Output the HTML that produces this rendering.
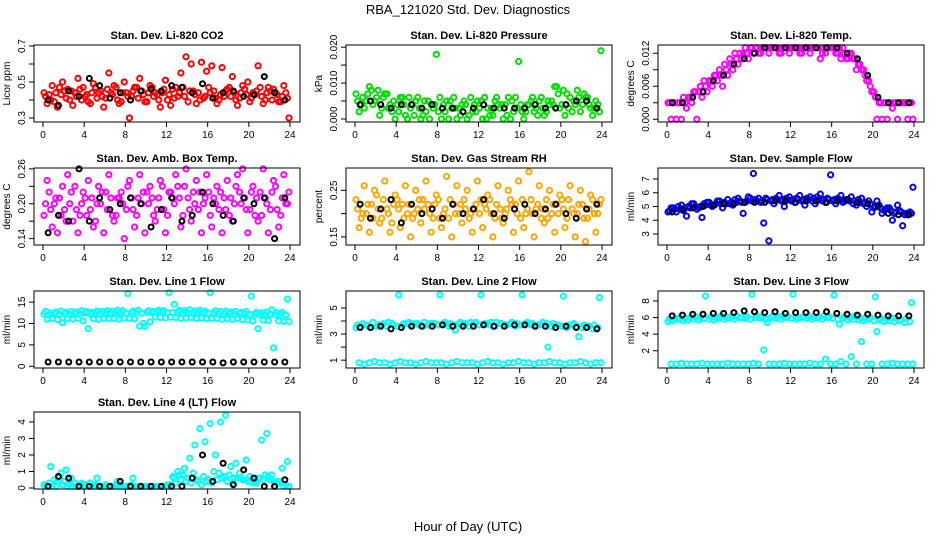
<!DOCTYPE html>
<html><head><meta charset="utf-8"><style>
html,body{margin:0;padding:0;background:#fff;}
svg{display:block;font-family:"Liberation Sans",Arial,sans-serif;}
</style></head><body>
<svg id="c" width="936" height="540" viewBox="0 0 936 540">
<text x="468" y="14" text-anchor="middle" font-size="13">RBA_121020  Std. Dev. Diagnostics</text>
<text x="468" y="531" text-anchor="middle" font-size="13">Hour of Day (UTC)</text>
</svg>
<script>
const xTicks=[0,4,8,12,16,20,24];
// CO2
const co2A=[0.42,0.40,0.44,0.43,0.41,0.45,0.42,0.40,0.43,0.44,0.41,0.42,0.46,0.43,0.40,0.44,0.42,0.45,0.41,0.43,0.44,0.42,0.40,0.46,0.43,0.41,0.44,0.42,0.45,0.43,0.40,0.42,0.44,0.41,0.43,0.45,0.42,0.40,0.44,0.43,0.41,0.45,0.42,0.44,0.40,0.43,0.42,0.41];
const co2B=[0.38,0.48,0.36,0.50,0.46,0.37,0.52,0.47,0.39,0.49,0.44,0.36,0.55,0.48,0.38,0.50,0.30,0.47,0.52,0.39,0.48,0.44,0.36,0.51,0.37,0.47,0.55,0.64,0.60,0.38,0.61,0.56,0.59,0.38,0.58,0.46,0.53,0.37,0.48,0.50,0.44,0.59,0.38,0.47,0.46,0.39,0.48,0.30];
const co2C=[0.44,0.43,0.39,0.47,0.45,0.40,0.44,0.46,0.42,0.38,0.47,0.45,0.41,0.44,0.47,0.39,0.44,0.42,0.47,0.45,0.39,0.47,0.43,0.44,0.40,0.46,0.42,0.47,0.39,0.45,0.44,0.41,0.47,0.45,0.40,0.42,0.47,0.44,0.41,0.46,0.39,0.43,0.47,0.40,0.45,0.44,0.39,0.44];
const co2K=[0.40,0.37,0.45,0.42,0.52,0.48,0.41,0.44,0.40,0.45,0.46,0.45,0.48,0.47,0.44,0.49,0.41,0.44,0.45,0.42,0.43,0.53,0.44,0.40];
// Pressure
const presA=[0.005,0.006,0.007,0.004,0.008,0.006,0.003,0.005,0.002,0.004,0.006,0.001,0.003,0.005,0.000,0.004,0.006,0.002,0.005,0.003,0.001,0.004,0.006,0.002,0.005,0.000,0.003,0.006,0.004,0.001,0.005,0.003,0.002,0.004,0.006,0.001,0.003,0.005,0.004,0.007,0.008,0.003,0.005,0.006,0.007,0.004,0.003,0.002];
const presB=[0.002,0.003,0.009,0.005,0.001,0.007,0.004,0.000,0.006,0.001,0.003,0.005,0.000,0.002,0.004,0.018,0.000,0.005,0.003,0.000,0.004,0.000,0.002,0.005,0.000,0.003,0.001,0.004,0.000,0.006,0.002,0.016,0.000,0.004,0.002,0.005,0.001,0.004,0.009,0.003,0.001,0.006,0.004,0.002,0.006,0.003,0.005,0.019];
const presC=[0.007,0.004,0.005,0.008,0.006,0.003,0.007,0.002,0.004,0.006,0.000,0.004,0.006,0.001,0.005,0.003,0.002,0.004,0.000,0.006,0.003,0.005,0.001,0.004,0.003,0.006,0.001,0.005,0.003,0.004,0.000,0.006,0.004,0.002,0.005,0.003,0.006,0.002,0.005,0.009,0.004,0.007,0.002,0.008,0.004,0.006,0.001,0.004];
const presK=[0.004,0.005,0.004,0.003,0.004,0.004,0.003,0.004,0.003,0.003,0.002,0.003,0.004,0.003,0.003,0.003,0.003,0.004,0.003,0.003,0.004,0.005,0.005,0.003];
// Li-820 temp
const tempA=[0.003,0.003,0.003,0.003,0.004,0.005,0.006,0.006,0.007,0.008,0.008,0.009,0.010,0.011,0.011,0.012,0.013,0.013,0.013,0.013,0.013,0.013,0.013,0.013,0.013,0.013,0.013,0.013,0.013,0.013,0.013,0.013,0.013,0.013,0.012,0.012,0.011,0.010,0.008,0.006,0.004,0.003,0.003,0.003,0.003,0.003,0.003,0.003];
const tempB=[0.000,0.000,0.000,0.002,0.003,0.000,0.004,0.005,0.006,0.007,0.006,0.008,0.009,0.010,0.012,0.011,0.012,0.012,0.013,0.012,0.013,0.012,0.013,0.012,0.013,0.012,0.013,0.012,0.013,0.011,0.012,0.013,0.012,0.011,0.011,0.012,0.009,0.009,0.007,0.005,0.000,0.000,0.000,0.002,0.000,0.003,0.000,0.000];
const tempC=[0.003,0.003,0.003,0.004,0.004,0.005,0.005,0.007,0.007,0.008,0.009,0.010,0.011,0.012,0.012,0.013,0.013,0.013,0.012,0.013,0.013,0.013,0.012,0.013,0.013,0.013,0.012,0.013,0.013,0.013,0.012,0.013,0.013,0.012,0.013,0.011,0.011,0.010,0.009,0.007,0.005,0.003,0.003,0.003,0.003,0.003,0.003,0.003];
const tempK=[0.003,0.003,0.004,0.005,0.007,0.008,0.010,0.011,0.012,0.013,0.013,0.013,0.013,0.013,0.013,0.013,0.013,0.012,0.011,0.008,0.004,0.003,0.003,0.003];
// Amb box temp
const ambA=[0.20,0.19,0.21,0.18,0.17,0.22,0.19,0.20,0.18,0.21,0.20,0.22,0.19,0.18,0.21,0.20,0.23,0.19,0.21,0.22,0.20,0.18,0.21,0.19,0.22,0.20,0.21,0.23,0.19,0.20,0.22,0.21,0.18,0.20,0.22,0.19,0.21,0.23,0.20,0.19,0.22,0.21,0.18,0.20,0.22,0.19,0.21,0.20];
const ambB=[0.24,0.16,0.15,0.23,0.25,0.17,0.15,0.22,0.24,0.16,0.23,0.15,0.25,0.17,0.21,0.14,0.24,0.16,0.25,0.15,0.23,0.17,0.24,0.15,0.22,0.25,0.16,0.26,0.17,0.24,0.15,0.25,0.16,0.23,0.15,0.24,0.17,0.25,0.26,0.15,0.23,0.17,0.26,0.15,0.24,0.16,0.25,0.22];
const ambC=[0.18,0.22,0.20,0.21,0.19,0.20,0.23,0.18,0.21,0.19,0.17,0.20,0.22,0.21,0.18,0.22,0.19,0.21,0.18,0.20,0.22,0.21,0.19,0.23,0.18,0.21,0.23,0.18,0.21,0.22,0.19,0.20,0.22,0.21,0.19,0.21,0.18,0.20,0.22,0.21,0.19,0.18,0.22,0.21,0.19,0.23,0.18,0.20];
const ambK=[0.15,0.18,0.17,0.26,0.17,0.21,0.19,0.20,0.21,0.20,0.16,0.19,0.21,0.17,0.18,0.22,0.20,0.18,0.17,0.21,0.20,0.21,0.14,0.21];
// Gas stream RH
const rhA=[0.21,0.20,0.22,0.19,0.21,0.23,0.20,0.22,0.21,0.19,0.22,0.20,0.23,0.21,0.20,0.22,0.19,0.21,0.23,0.20,0.22,0.21,0.20,0.22,0.23,0.21,0.20,0.22,0.19,0.21,0.22,0.20,0.23,0.21,0.20,0.22,0.21,0.19,0.22,0.20,0.21,0.23,0.20,0.22,0.19,0.21,0.20,0.22];
const rhB=[0.17,0.26,0.16,0.25,0.18,0.27,0.16,0.24,0.17,0.26,0.15,0.25,0.18,0.27,0.16,0.24,0.17,0.28,0.15,0.26,0.18,0.25,0.16,0.27,0.17,0.24,0.15,0.26,0.18,0.25,0.16,0.27,0.17,0.29,0.15,0.26,0.18,0.25,0.16,0.24,0.17,0.26,0.15,0.25,0.14,0.24,0.16,0.23];
const rhC=[0.23,0.19,0.20,0.22,0.24,0.19,0.21,0.18,0.23,0.22,0.20,0.19,0.21,0.23,0.22,0.19,0.23,0.20,0.19,0.22,0.20,0.23,0.19,0.21,0.20,0.22,0.23,0.19,0.21,0.20,0.23,0.22,0.19,0.20,0.23,0.21,0.19,0.23,0.20,0.22,0.23,0.19,0.21,0.20,0.22,0.19,0.23,0.20];
const rhK=[0.22,0.19,0.21,0.23,0.18,0.22,0.20,0.21,0.19,0.22,0.20,0.21,0.23,0.20,0.19,0.21,0.22,0.20,0.21,0.22,0.20,0.19,0.21,0.22];
// Sample flow
const sfA=[4.7,4.8,4.8,4.9,4.9,5.0,5.0,5.1,5.1,5.2,5.2,5.2,5.3,5.3,5.3,5.4,5.4,5.4,5.4,5.5,5.5,5.5,5.5,5.5,5.5,5.5,5.5,5.5,5.6,5.5,5.5,5.5,5.5,5.5,5.4,5.4,5.4,5.3,5.3,5.2,5.0,4.9,4.8,4.7,4.6,4.6,4.5,4.5];
const sfB=[4.9,4.6,5.1,4.3,5.2,4.8,4.2,5.3,5.0,5.4,4.9,5.5,5.1,5.6,4.5,5.7,7.4,5.6,3.8,2.5,5.2,5.8,5.0,5.7,5.3,5.8,5.1,5.7,5.2,5.9,5.3,7.3,5.2,5.8,5.5,5.7,5.1,5.6,5.0,4.6,5.4,4.5,4.9,4.0,5.1,3.6,4.4,6.4];
const sfC=[4.6,4.9,5.0,4.7,5.0,5.2,4.9,5.2,5.3,5.1,5.4,5.3,5.2,5.5,5.4,5.3,5.6,5.5,5.3,5.6,5.4,5.6,5.4,5.6,5.4,5.6,5.4,5.6,5.4,5.7,5.4,5.6,5.4,5.6,5.3,5.5,5.2,5.5,5.2,5.4,4.9,5.1,4.7,4.9,4.5,4.7,4.4,4.6];
const sfK=[4.6,4.8,4.9,5.0,5.1,5.2,5.2,5.3,5.3,5.3,5.4,5.4,5.3,5.4,5.4,5.3,5.4,5.5,5.3,5.2,5.0,4.5,4.4,4.4];
// Line 1
const l1A=[12.8,12.5,12.7,12.9,12.6,12.8,12.7,13.0,12.8,12.6,12.9,12.8,13.0,12.9,13.1,13.0,17.0,12.9,13.1,10.0,13.0,12.8,13.1,13.0,17.2,14.5,13.1,13.0,13.2,12.9,13.1,12.9,17.2,13.0,12.8,12.9,12.7,12.8,12.6,12.8,16.4,12.6,12.5,12.7,13.2,12.5,12.6,15.7];
const l1B=[11.0,11.2,10.9,10.2,11.1,11.0,11.2,10.6,8.8,11.1,11.0,11.2,11.1,11.2,11.0,11.3,11.2,11.1,9.4,9.3,10.4,11.5,11.4,11.3,11.5,11.4,11.2,11.3,11.4,11.2,11.3,11.1,11.2,11.2,11.0,11.1,11.0,11.1,10.9,10.8,10.6,8.8,10.8,10.7,4.3,10.6,10.5,10.5];
const l1C=[12.2,12.0,12.4,12.1,12.3,12.2,12.4,12.3,12.5,12.2,12.4,12.3,12.5,12.4,12.6,12.5,12.4,12.6,12.5,12.4,12.6,12.5,12.7,12.6,12.5,12.6,12.7,12.5,12.6,12.4,12.6,12.5,12.4,12.5,12.3,12.4,12.3,12.2,12.4,12.3,12.1,12.2,12.0,12.1,12.2,12.0,12.1,12.0];
const l1K=[1.0,1.0,1.0,1.0,1.0,1.0,1.0,1.0,1.0,1.0,1.0,1.0,1.0,1.0,1.0,1.0,1.0,0.8,1.0,1.0,1.0,1.0,1.0,1.0];
// Line 2
const l2A=[3.7,3.8,3.6,3.9,3.7,3.8,3.9,3.7,6.0,3.8,3.9,3.8,3.7,3.9,3.8,3.8,6.0,3.9,3.8,3.3,3.9,3.8,3.9,3.9,6.0,3.8,3.9,3.9,3.8,3.7,3.9,3.8,6.0,3.9,3.8,3.7,3.9,2.0,3.8,3.7,5.9,3.7,3.8,2.8,3.7,3.6,3.7,5.8];
const l2B=[0.8,0.7,0.8,0.9,0.8,0.8,0.7,0.8,0.9,0.8,0.8,0.7,0.8,0.9,0.8,0.8,0.8,0.7,0.8,0.9,0.8,0.8,0.8,0.7,0.8,0.9,0.8,0.8,0.7,0.8,0.8,0.9,0.8,0.8,0.7,0.8,0.8,0.9,0.8,0.8,0.7,0.8,0.8,0.9,0.8,0.7,0.8,0.8];
const l2C=[3.5,3.6,3.7,3.5,3.6,3.7,3.6,3.8,3.6,3.7,3.8,3.7,3.8,3.6,3.7,3.8,3.7,3.8,3.6,3.7,3.8,3.7,3.6,3.8,3.7,3.8,3.7,3.6,3.8,3.7,3.8,3.6,3.7,3.8,3.7,3.6,3.7,3.8,3.6,3.7,3.6,3.5,3.7,3.6,3.5,3.6,3.4,3.5];
const l2K=[3.5,3.5,3.6,3.4,3.5,3.6,3.6,3.6,3.7,3.6,3.6,3.6,3.7,3.6,3.6,3.7,3.7,3.6,3.6,3.5,3.6,3.5,3.5,3.4];
// Line 3
const l3A=[5.8,5.9,6.0,5.9,6.0,6.1,6.0,8.6,6.1,6.0,6.2,6.1,6.1,6.2,6.0,6.1,8.8,6.2,6.1,5.4,6.2,6.1,6.2,6.1,8.8,6.0,6.1,6.2,6.1,6.0,6.2,6.1,8.7,5.2,6.1,6.0,6.2,6.0,5.9,6.0,8.5,5.9,5.8,6.0,5.9,5.7,5.9,7.8];
const l3B=[0.4,0.4,0.5,0.4,0.4,0.4,0.5,0.4,0.4,0.4,0.4,0.5,0.4,0.4,0.4,0.4,0.5,0.4,2.1,0.4,0.4,0.4,0.5,0.4,0.4,0.4,0.4,0.5,0.4,0.4,1.0,0.4,0.4,0.7,0.4,1.3,0.4,3.1,0.4,0.4,4.3,0.4,0.4,0.5,0.4,0.4,0.4,0.4];
const l3C=[5.5,5.6,5.8,5.6,5.7,5.8,5.7,5.9,5.8,5.7,5.9,5.8,5.9,5.8,6.0,5.9,5.8,6.0,5.9,5.8,6.0,5.9,5.8,6.0,5.9,5.8,6.0,5.9,5.8,5.9,5.8,6.0,5.9,5.8,5.9,5.7,5.8,5.7,5.6,5.8,5.6,5.7,5.5,5.6,5.5,5.6,5.4,5.5];
const l3K=[6.2,6.3,6.4,6.4,6.5,6.5,6.6,6.8,6.7,6.6,6.7,6.5,6.6,6.6,6.6,6.7,6.5,6.4,6.3,6.4,6.3,6.2,6.2,6.2];
// Line 4
const l4A=[0.1,1.3,0.1,0.9,1.1,0.6,0.1,0.3,0.2,0.1,0.6,0.1,0.1,0.1,0.4,0.1,0.1,0.6,0.1,0.1,0.1,0.1,0.1,0.1,0.1,0.6,0.8,1.2,1.8,2.6,3.6,2.8,3.9,2.0,4.0,4.4,1.3,1.5,0.6,1.7,0.5,0.3,2.9,3.3,0.8,0.4,1.2,1.6];
const l4B=[0.1,0.1,0.4,0.2,0.1,0.1,0.1,0.1,0.1,0.1,0.1,0.1,0.1,0.1,0.1,0.1,0.1,0.1,0.1,0.1,0.1,0.1,0.1,0.1,0.2,0.3,0.5,0.4,0.3,0.5,0.2,0.4,0.3,0.5,0.6,0.4,0.3,0.6,0.5,0.4,0.3,0.6,0.5,0.7,0.4,0.3,0.1,0.1];
const l4C=[0.2,0.3,0.5,0.6,0.4,0.2,0.3,0.2,0.1,0.3,0.2,0.1,0.2,0.1,0.2,0.1,0.1,0.2,0.1,0.1,0.1,0.1,0.1,0.1,0.2,0.7,1.0,0.8,0.6,0.9,0.4,0.7,0.5,1.0,0.9,0.7,0.8,0.6,0.9,0.5,0.7,0.4,0.6,0.8,0.5,0.3,0.4,0.2];
const l4K=[0.1,0.7,0.6,0.1,0.1,0.1,0.1,0.4,0.1,0.1,0.1,0.1,0.1,0.1,0.6,2.0,0.4,1.5,0.2,1.1,0.6,0.1,0.1,0.5];

const panels=[
 {name:'co2',title:'Stan. Dev. Li-820 CO2',yl:'Licor ppm',col:0,row:0,lo:0.2775,hi:0.7056,ticks:[0.3,0.4,0.5,0.6,0.7],labs:['0.3','','0.5','','0.7'],c:'#ff0000',A:co2A,B:co2B,C:co2C,K:co2K},
 {name:'pressure',title:'Stan. Dev. Li-820 Pressure',yl:'kPa',col:1,row:0,lo:-0.00085,hi:0.0206,ticks:[0,0.005,0.01,0.015,0.02],labs:['0.000','','0.010','','0.020'],c:'#00e000',A:presA,B:presB,C:presC,K:presK},
 {name:'li820-temp',title:'Stan. Dev. Li-820 Temp.',yl:'degrees C',col:2,row:0,lo:-0.0005,hi:0.0135,ticks:[0,0.003,0.006,0.009,0.012],labs:['0.000','','0.006','','0.012'],c:'#ff00ff',A:tempA,B:tempB,C:tempC,K:tempK},
 {name:'amb-box-temp',title:'Stan. Dev. Amb. Box Temp.',yl:'degrees C',col:0,row:1,lo:0.129,hi:0.2615,ticks:[0.14,0.17,0.2,0.23,0.26],labs:['0.14','','0.20','','0.26'],c:'#ff00ff',A:ambA,B:ambB,C:ambC,K:ambK},
 {name:'gas-stream-rh',title:'Stan. Dev. Gas Stream RH',yl:'percent',col:1,row:1,lo:0.1326,hi:0.298,ticks:[0.15,0.2,0.25],labs:['0.15','','0.25'],c:'#ffa500',A:rhA,B:rhB,C:rhC,K:rhK},
 {name:'sample-flow',title:'Stan. Dev. Sample Flow',yl:'ml/min',col:2,row:1,lo:2.2,hi:7.8,ticks:[3,4,5,6,7],labs:['3','4','5','6','7'],c:'#0000ff',A:sfA,B:sfB,C:sfC,K:sfK},
 {name:'line1-flow',title:'Stan. Dev. Line 1 Flow',yl:'ml/min',col:0,row:2,lo:-0.4,hi:17.6,ticks:[0,5,10,15],labs:['0','5','10','15'],c:'#00ffff',A:l1A,B:l1B,C:l1C,K:l1K},
 {name:'line2-flow',title:'Stan. Dev. Line 2 Flow',yl:'ml/min',col:1,row:2,lo:0.4,hi:6.3,ticks:[1,2,3,4,5],labs:['1','','3','','5'],c:'#00ffff',A:l2A,B:l2B,C:l2C,K:l2K},
 {name:'line3-flow',title:'Stan. Dev. Line 3 Flow',yl:'ml/min',col:2,row:2,lo:-0.08,hi:9.2,ticks:[2,4,6,8],labs:['2','4','6','8'],c:'#00ffff',A:l3A,B:l3B,C:l3C,K:l3K},
 {name:'line4-flow',title:'Stan. Dev. Line 4 (LT) Flow',yl:'ml/min',col:0,row:3,lo:-0.06,hi:4.6,ticks:[0,1,2,3,4],labs:['0','1','2','3','4'],c:'#00ffff',A:l4A,B:l4B,C:l4C,K:l4K}
];
const NS='http://www.w3.org/2000/svg';
const svg=document.getElementById('c');
const rowTop=[45,168,291,412], H=77, W=266;
function mk(tag,attrs,parent){const e=document.createElementNS(NS,tag);for(const k in attrs)e.setAttribute(k,attrs[k]);parent.appendChild(e);return e;}
panels.forEach(p=>{
  const fx=34+312*p.col, fy=rowTop[p.row];
  const g=mk('g',{},svg);
  
  
  const xs=h=>fx+9+h*(247/24);
  const ys=v=>fy+H-(v-p.lo)/(p.hi-p.lo)*H;
  const t=mk('text',{x:fx+W/2,y:fy-6,'text-anchor':'middle','font-size':'11','font-weight':'bold'},g);
  t.textContent=p.title;
  
  
  const yl=mk('text',{x:0,y:0,'text-anchor':'middle','font-size':'10',transform:`translate(${fx-24},${fy+H/2}) rotate(-90)`},g);
  yl.textContent=p.yl;
  
  
  const pts=mk('g',{fill:'none','stroke-width':'2'},g);
  
  
  [[p.C,0.2],[p.A,0.5],[p.B,0.8]].forEach(([arr,off])=>{
    arr.forEach((v,i)=>{
      const h=(i+off)*24/arr.length;
      const e=mk('circle',{cx:xs(h),cy:ys(v),r:2.6,stroke:p.c},pts);
      
      
    });
  });
  p.K.forEach((v,i)=>{
    const h=(i+0.5)*24/p.K.length;
    const e=mk('circle',{cx:xs(h),cy:ys(v),r:2.5,stroke:'#000'},pts);
    
    
  });
  const fr=mk('rect',{x:fx,y:fy,width:W,height:H,fill:'none',stroke:'#000','stroke-width':'1'},g);
  
  
  xTicks.forEach(h=>{
    mk('line',{x1:xs(h),x2:xs(h),y1:fy+H,y2:fy+H+5,stroke:'#000'},g);
    const tl=mk('text',{x:xs(h),y:fy+H+16,'text-anchor':'middle','font-size':'10'},g);
    tl.textContent=h;
    
    
  });
  p.ticks.forEach((v,i)=>{
    mk('line',{x1:fx-5,x2:fx,y1:ys(v),y2:ys(v),stroke:'#000'},g);
    if(p.labs[i]){
      const tl=mk('text',{x:0,y:0,'text-anchor':'middle','font-size':'10',transform:`translate(${fx-9},${ys(v)}) rotate(-90)`},g);
      tl.textContent=p.labs[i];
      
      
    }
  });
});
</script>
</body></html>
